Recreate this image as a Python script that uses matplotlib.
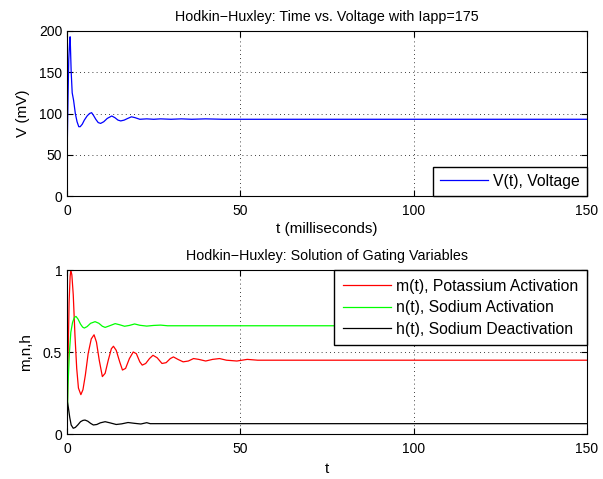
import matplotlib
matplotlib.use("Agg")
import matplotlib.pyplot as plt

plt.rcParams['font.family'] = ['Liberation Sans', 'DejaVu Sans']
plt.rcParams['font.size'] = 10

# voltage trace (t in ms, V in mV)
t_v = [0, 0.1, 0.3, 0.5, 0.8, 0.9, 1.0, 1.2, 1.5, 1.9, 2.4, 2.9, 3.4, 3.8, 4.4,
       5.0, 5.8, 6.5, 7.1, 7.6, 8.3, 9.0, 9.7, 10.6, 11.6, 12.9, 13.8, 14.7,
       15.5, 16.5, 17.5, 18.6, 19.6, 21, 23, 25, 27, 30, 33, 36, 40, 45, 150]
V = [0, 68, 120, 165, 190, 193, 180, 151, 125, 116, 100, 90, 84, 84, 87,
     92, 97, 100, 101, 98, 93, 89, 88, 90, 94, 97, 95, 92, 91, 92, 94, 96,
     95, 93, 93.5, 93, 93.5, 93, 93.5, 93, 93.5, 93, 93]

# gating variables
t_m = [0, 0.3, 0.6, 0.9, 1.1, 1.4, 1.8, 2.3, 2.8, 3.3, 4.0, 4.6, 5.3, 6.1,
       7.0, 7.8, 8.5, 9.3, 10.2, 11.0, 11.9, 12.8, 13.4, 14.2, 15.2, 16.0,
       16.9, 18.0, 19.1, 20.0, 21.0, 21.7, 22.7, 23.8, 24.8, 26.0, 27.4, 28.6,
       29.8, 30.7, 32, 33.5, 35, 36.5, 38, 40, 42, 44, 46, 49, 52, 55, 150]
m = [0.0, 0.45, 0.8, 0.96, 1.0, 0.97, 0.85, 0.6, 0.4, 0.28, 0.24, 0.27, 0.36,
     0.49, 0.58, 0.605, 0.56, 0.45, 0.35, 0.37, 0.45, 0.52, 0.535, 0.51, 0.44,
     0.39, 0.40, 0.46, 0.50, 0.49, 0.44, 0.42, 0.43, 0.46, 0.48, 0.465, 0.43,
     0.435, 0.46, 0.47, 0.455, 0.44, 0.445, 0.46, 0.455, 0.445, 0.455, 0.46,
     0.45, 0.445, 0.455, 0.45, 0.45]

t_n = [0, 0.3, 0.7, 1.1, 1.6, 2.1, 2.6, 3.2, 3.9, 4.5, 5.0, 5.8, 6.8, 8.1,
       9.2, 10.2, 11.0, 12.3, 13.9, 15.2, 16.6, 18.0, 19.5, 21.0, 23, 25, 27,
       29, 150]
n = [0.0, 0.3, 0.5, 0.62, 0.68, 0.71, 0.717, 0.7, 0.67, 0.652, 0.646, 0.655,
     0.675, 0.685, 0.675, 0.657, 0.65, 0.66, 0.673, 0.666, 0.657, 0.662,
     0.671, 0.663, 0.658, 0.662, 0.664, 0.66, 0.66]

t_h = [0, 0.4, 0.8, 1.2, 1.8, 2.4, 3.1, 3.9, 4.6, 5.2, 6.0, 6.8, 7.6, 8.6,
       9.6, 11.0, 12.4, 14.2, 15.8, 17.6, 19.5, 21.3, 23.0, 24, 150]
h = [0.21, 0.16, 0.1, 0.055, 0.035, 0.04, 0.055, 0.075, 0.083, 0.085, 0.078,
     0.065, 0.055, 0.058, 0.068, 0.075, 0.068, 0.058, 0.062, 0.07, 0.065,
     0.061, 0.069, 0.063, 0.063]

fig = plt.figure(figsize=(6.03, 4.79), dpi=100)
ax1 = fig.add_axes([67 / 603, 1 - 196 / 479, 520 / 603, 165 / 479])
ax2 = fig.add_axes([67 / 603, 1 - 434 / 479, 520 / 603, 164 / 479])

leg_kw = dict(borderaxespad=0, fancybox=False, edgecolor='black', framealpha=1,
              handlelength=3.1, handletextpad=0.3, fontsize=11.3)

ax1.plot(t_v, V, color=(0, 0, 1), lw=0.9, label='V(t), Voltage')
ax1.set_xlim(0, 150)
ax1.set_ylim(0, 200)
ax1.set_xticks([0, 50, 100, 150])
ax1.set_yticks([0, 50, 100, 150, 200])
ax1.set_xlabel('t (milliseconds)', fontsize=11, labelpad=3)
ax1.set_ylabel('V (mV)', fontsize=11, labelpad=6)
ax1.set_title('Hodkin\u2212Huxley: Time vs. Voltage with Iapp=175', fontsize=10.3, pad=7)
ax1.legend(loc='lower right', borderpad=0.45, **leg_kw)

ax2.plot(t_m, m, color=(1, 0, 0), lw=0.9, label='m(t), Potassium Activation')
ax2.plot(t_n, n, color=(0, 1, 0), lw=0.9, label='n(t), Sodium Activation')
ax2.plot(t_h, h, color='black', lw=0.9, label='h(t), Sodium Deactivation')
ax2.set_xlim(0, 150)
ax2.set_ylim(0, 1)
ax2.set_xticks([0, 50, 100, 150])
ax2.set_yticks([0, 0.5, 1])
ax2.set_yticklabels(['0', '0.5', '1'])
ax2.set_xlabel('t', fontsize=11, labelpad=4)
ax2.set_ylabel('m,n,h', fontsize=11, labelpad=7)
ax2.set_title('Hodkin\u2212Huxley: Solution of Gating Variables', fontsize=10.3, pad=7)
ax2.legend(loc='upper right', borderpad=0.55, labelspacing=0.42, **leg_kw)

for ax in (ax1, ax2):
    ax.grid(True, linestyle=(0, (1, 4)), color='black', linewidth=0.6)
    ax.tick_params(direction='in', length=4, top=True, right=True, labelsize=10)
    ax.tick_params(axis='x', pad=5.8)
    for s in ax.spines.values():
        s.set_linewidth(0.8)

fig.savefig('out.png', dpi=100)
